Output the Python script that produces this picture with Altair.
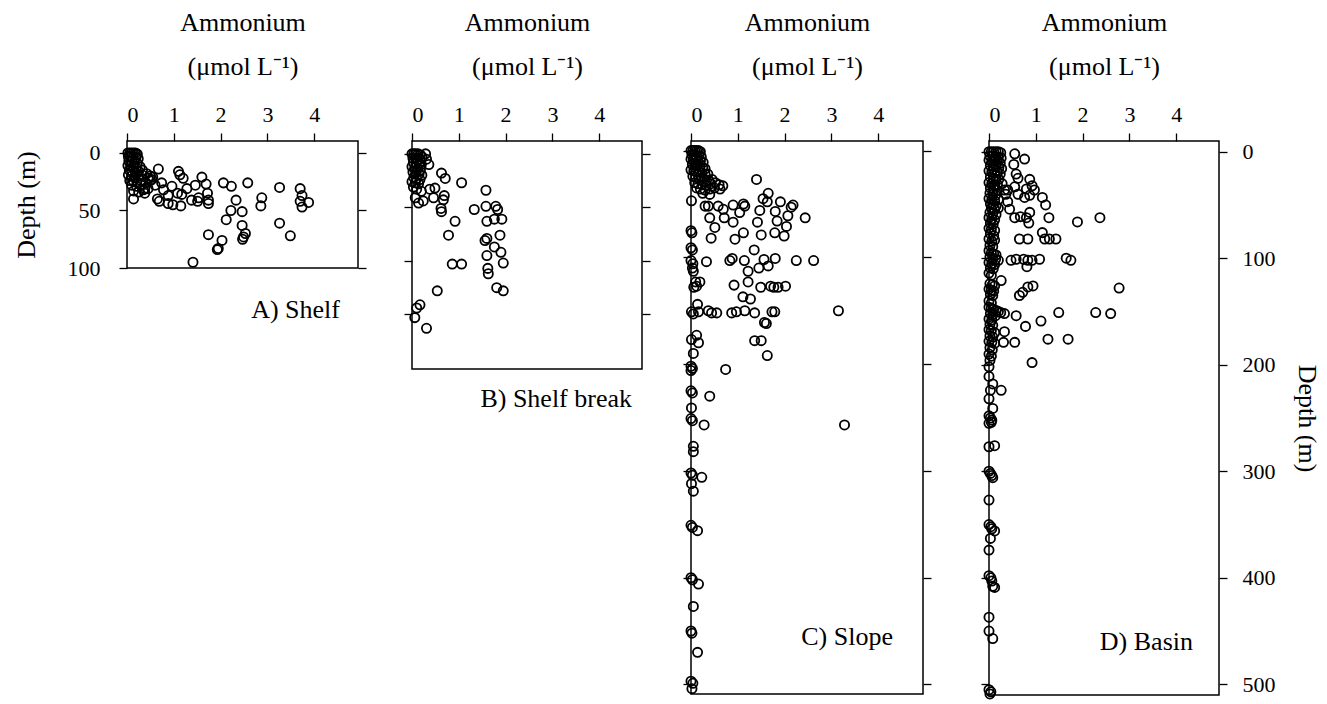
import altair as alt
import pandas as pd

FONT = "Liberation Serif"

# x ticks (ammonium, umol/L) shared by all panels
X_TICKS = [0, 1, 2, 3, 4]
X_TITLE = ["Ammonium", "(\u03bcmol L\u207b\u00b9)"]
DEPTH_TITLE = "Depth (m)"
PANEL_LABELS = ["A) Shelf", "B) Shelf break", "C) Slope", "D) Basin"]

# (ammonium, depth) pairs
SHELF = [
    (0.02, 0), (0.06, 0), (0.10, 0), (0.14, 0), (0.18, 0), (0.22, 1),
    (0.03, 3), (0.08, 3), (0.13, 4), (0.19, 4), (0.24, 5),
    (0.04, 7), (0.10, 7), (0.16, 8), (0.22, 9),
    (0.02, 11), (0.08, 11), (0.14, 12), (0.20, 13), (0.28, 12),
    (0.05, 15), (0.11, 16), (0.18, 17), (0.25, 16), (0.33, 15),
    (0.03, 19), (0.10, 20), (0.17, 21), (0.24, 20), (0.32, 19), (0.42, 18), (0.50, 20),
    (0.06, 24), (0.13, 24), (0.21, 25), (0.30, 24), (0.45, 22), (0.55, 21),
    (0.10, 28), (0.20, 29), (0.30, 28), (0.40, 26), (0.50, 24),
    (0.14, 33), (0.25, 34), (0.35, 32), (0.45, 31),
    (0.14, 40), (0.38, 35), (0.38, 31), (0.53, 23), (0.60, 28),
    (0.67, 14), (1.10, 16), (1.13, 19), (1.20, 22), (1.60, 21), (1.28, 31), (1.46, 28),
    (1.69, 27), (1.72, 35), (1.74, 41), (1.74, 44), (1.53, 39), (1.51, 42), (1.38, 41),
    (1.17, 36), (1.08, 35), (0.96, 29), (0.74, 26), (0.78, 32), (0.88, 37), (0.88, 44),
    (0.98, 45), (1.15, 46), (0.65, 40), (0.69, 42),
    (2.06, 26), (2.23, 29), (2.58, 26), (2.33, 41), (2.22, 50), (2.12, 58), (2.46, 51),
    (2.46, 63), (2.53, 70), (2.49, 73), (2.47, 75), (1.74, 71), (2.03, 76), (1.93, 84),
    (1.95, 83), (1.41, 95),
    (2.88, 39), (2.86, 46), (3.26, 30), (3.70, 31), (3.74, 37), (3.70, 42), (3.74, 47),
    (3.88, 43), (3.26, 61), (3.49, 72),
]

SHELF_BREAK = [
    (0.00, 0), (0.04, 0), (0.08, 0), (0.13, 0), (0.18, 1), (0.29, 0),
    (0.02, 4), (0.07, 4), (0.12, 5), (0.17, 5), (0.22, 3), (0.31, 5),
    (0.03, 8), (0.09, 9), (0.15, 9), (0.20, 10), (0.36, 10),
    (0.00, 12), (0.06, 13), (0.12, 14), (0.18, 15),
    (0.02, 17), (0.08, 18), (0.15, 19), (0.21, 20),
    (0.04, 22), (0.10, 23), (0.17, 24),
    (0.00, 26), (0.07, 27), (0.14, 28),
    (0.03, 31), (0.10, 33), (0.20, 35),
    (0.07, 41), (0.14, 46), (0.24, 44), (0.38, 33), (0.49, 32), (0.46, 41),
    (0.63, 18), (0.71, 23), (1.06, 27), (0.69, 39), (0.67, 43), (0.62, 51), (0.63, 54),
    (0.92, 63), (0.78, 76), (1.33, 52),
    (1.58, 34), (1.58, 49), (1.79, 49), (1.83, 52), (1.60, 63), (1.76, 61), (1.92, 61),
    (1.88, 76), (1.56, 81), (1.60, 79), (1.76, 87), (1.90, 92), (1.60, 95), (1.95, 102),
    (1.62, 107), (1.63, 112),
    (0.86, 103), (1.06, 103), (1.81, 125), (1.95, 128), (0.54, 128), (0.17, 141),
    (0.10, 144), (0.06, 153), (0.31, 163),
]

SLOPE = [
    (0.00, 0), (0.04, 0), (0.08, 0), (0.12, 0), (0.16, 0), (0.20, 1),
    (0.02, 4), (0.07, 4), (0.12, 5), (0.17, 5), (0.22, 6),
    (0.00, 8), (0.05, 8), (0.10, 9), (0.15, 10), (0.20, 10), (0.26, 11),
    (0.03, 13), (0.08, 14), (0.13, 14), (0.19, 15), (0.25, 16), (0.30, 17),
    (0.00, 18), (0.06, 19), (0.11, 20), (0.17, 20), (0.23, 21), (0.30, 22), (0.36, 22),
    (0.04, 24), (0.10, 25), (0.16, 26), (0.22, 26), (0.30, 27), (0.38, 28), (0.45, 27),
    (0.08, 30), (0.15, 31), (0.24, 32), (0.33, 32), (0.42, 31), (0.52, 30), (0.60, 32), (0.68, 33),
    (0.12, 35), (0.20, 36), (0.30, 37), (0.40, 36), (0.50, 35), (0.62, 36),
    (0.25, 40), (0.40, 41),
    (1.40, 27), (0.01, 47), (0.30, 52), (0.37, 52), (0.58, 52), (0.69, 55), (0.71, 63),
    (0.40, 63), (0.51, 72), (0.43, 82),
    (0.90, 51), (1.04, 58), (0.90, 67), (1.15, 52), (1.12, 50), (1.54, 45), (1.65, 40),
    (1.63, 48), (1.47, 56), (1.42, 67), (1.50, 79), (1.12, 77), (0.94, 83),
    (1.91, 48), (1.80, 57), (1.84, 66), (1.79, 77), (1.99, 80), (2.07, 61), (2.04, 71),
    (2.18, 51), (2.14, 53), (2.44, 63),
    (0.00, 75), (0.02, 77), (0.00, 91), (0.03, 93), (0.00, 103), (0.04, 106), (0.03, 110),
    (0.05, 113), (0.10, 123), (0.19, 123), (0.06, 128), (0.12, 127), (0.14, 144),
    (0.33, 104), (0.83, 103), (0.88, 101), (1.14, 103), (1.22, 113), (1.35, 93), (1.45, 110),
    (1.56, 102), (1.65, 108), (1.80, 101), (2.25, 103), (2.62, 103),
    (0.92, 126), (1.22, 123), (1.49, 128), (1.70, 127), (1.77, 128), (1.86, 128), (2.02, 127),
    (1.11, 137), (1.27, 139),
    (0.01, 151), (0.05, 153), (0.16, 151), (0.37, 150), (0.44, 152), (0.55, 152), (0.87, 152),
    (0.97, 151), (1.15, 150), (1.36, 152), (1.73, 151), (1.79, 151), (3.15, 150),
    (1.57, 161), (1.61, 162), (1.36, 178), (1.50, 178), (1.63, 192),
    (0.01, 177), (0.12, 173), (0.16, 180), (0.05, 190),
    (0.00, 202), (0.03, 204), (0.00, 206), (0.74, 205),
    (0.00, 225), (0.03, 227), (0.40, 230), (0.01, 241), (0.00, 251), (0.03, 253), (0.28, 257),
    (3.28, 257),
    (0.05, 277), (0.05, 282), (0.00, 302), (0.03, 304), (0.23, 306), (0.01, 312), (0.05, 319),
    (0.00, 351), (0.03, 353), (0.14, 356), (0.00, 400), (0.03, 402), (0.16, 406), (0.05, 427),
    (0.00, 450), (0.02, 452), (0.14, 470), (0.00, 497), (0.04, 499), (0.02, 504),
]

BASIN = [
    (0.00, 0), (0.05, 0), (0.10, 0), (0.15, 0), (0.20, 0), (0.25, 1),
    (0.02, 4), (0.08, 4), (0.14, 5), (0.20, 5), (0.26, 6),
    (0.00, 8), (0.06, 9), (0.12, 9), (0.18, 10), (0.24, 11),
    (0.03, 13), (0.09, 14), (0.15, 14), (0.21, 15), (0.27, 16),
    (0.00, 18), (0.06, 19), (0.12, 20), (0.18, 20), (0.24, 21),
    (0.03, 24), (0.09, 25), (0.15, 26), (0.21, 26),
    (0.00, 29), (0.06, 30), (0.12, 31), (0.18, 31), (0.28, 30),
    (0.03, 34), (0.10, 35), (0.17, 36), (0.33, 36),
    (0.02, 39), (0.08, 40), (0.14, 41), (0.36, 40),
    (0.00, 44), (0.06, 45), (0.12, 46), (0.20, 45), (0.40, 47),
    (0.03, 49), (0.09, 50), (0.15, 51), (0.05, 53), (0.12, 54), (0.20, 53),
    (0.02, 57), (0.08, 58), (0.15, 59), (0.00, 62), (0.06, 63), (0.12, 64),
    (0.03, 67), (0.09, 68), (0.00, 72), (0.05, 73), (0.12, 74), (0.03, 77), (0.10, 79),
    (0.00, 82), (0.06, 84), (0.12, 83), (0.02, 88), (0.08, 89),
    (0.00, 93), (0.05, 95), (0.10, 96), (0.15, 97), (0.02, 99), (0.08, 100), (0.14, 101),
    (0.20, 102), (0.00, 104), (0.06, 105), (0.12, 106), (0.03, 109), (0.09, 110),
    (0.00, 114), (0.05, 116), (0.02, 124), (0.07, 125), (0.12, 126), (0.00, 129), (0.05, 130),
    (0.10, 131), (0.03, 134), (0.08, 135), (0.00, 140), (0.05, 142),
    (0.00, 146), (0.05, 147), (0.10, 148), (0.15, 149), (0.20, 150), (0.25, 151),
    (0.03, 152), (0.08, 153), (0.14, 154), (0.00, 157), (0.06, 158), (0.02, 162), (0.08, 163),
    (0.00, 167), (0.05, 168), (0.12, 170), (0.02, 173), (0.08, 174), (0.00, 178), (0.06, 179),
    (0.12, 180), (0.02, 184), (0.07, 186), (0.00, 190), (0.05, 192), (0.02, 196),
    (0.55, 2), (0.76, 7), (0.53, 12), (0.58, 21), (0.62, 25), (0.87, 26), (0.92, 32),
    (0.97, 36), (0.80, 35), (0.62, 40), (0.76, 43), (0.87, 41), (1.14, 43), (1.21, 50),
    (0.55, 33), (0.40, 36), (0.44, 54), (0.55, 62), (0.67, 61), (0.80, 62), (0.87, 57),
    (0.85, 67), (1.28, 62), (1.89, 66), (2.37, 62), (0.65, 82), (0.83, 82), (1.14, 76),
    (1.19, 82), (1.29, 82), (1.43, 82), (0.47, 102), (0.58, 101), (0.74, 101), (0.83, 102),
    (0.81, 108), (0.92, 102), (1.08, 101), (1.65, 100), (1.75, 102), (0.26, 121),
    (0.65, 135), (0.72, 132), (0.83, 127), (0.94, 126), (2.78, 128), (0.33, 152), (0.58, 154),
    (1.49, 151), (2.28, 151), (2.60, 152), (1.11, 159), (0.78, 164), (0.33, 169), (0.31, 179),
    (0.55, 179), (1.26, 176), (1.69, 176), (0.92, 198),
    (0.00, 202), (0.00, 211), (0.08, 218), (0.03, 224), (0.26, 224), (0.00, 232), (0.08, 241),
    (0.00, 248), (0.03, 250), (0.06, 252), (0.00, 255), (0.05, 254),
    (0.00, 277), (0.12, 276), (0.00, 300), (0.03, 302), (0.06, 304), (0.08, 306),
    (0.00, 327), (0.00, 350), (0.04, 352), (0.06, 354), (0.12, 356), (0.03, 363), (0.00, 374),
    (0.00, 398), (0.04, 400), (0.06, 403), (0.12, 409), (0.08, 408), (0.00, 437), (0.00, 450),
    (0.08, 457), (0.00, 505), (0.04, 507), (0.02, 509),
]

PX_PER_UNIT = 46.8


def panel(points, w, h, ydom, yticks, left_labels, right_labels, label, lx, ly):
    df = pd.DataFrame(points, columns=["ammonium", "depth"])
    xsc = alt.Scale(domain=[0, w / PX_PER_UNIT], nice=False, zero=False)
    ysc = alt.Scale(domain=ydom, reverse=True, nice=False, zero=False)
    xax = alt.Axis(orient="top", values=X_TICKS, format="d", title=X_TITLE,
                   titleLineHeight=44, titlePadding=24, labelPadding=7)
    if left_labels:
        lax = alt.Axis(orient="left", values=yticks, title=DEPTH_TITLE,
                       labelPadding=19, titlePadding=28)
    else:
        lax = alt.Axis(orient="left", values=yticks, labels=False, title=None)
    if right_labels:
        rax = alt.Axis(orient="right", values=yticks, title=DEPTH_TITLE,
                       labelPadding=15, titlePadding=18)
    else:
        rax = alt.Axis(orient="right", values=yticks, labels=False, title=None)
    base = alt.Chart(df)
    pts = base.mark_point(shape="circle", filled=False, color="black", size=85,
                          strokeWidth=1.8, opacity=1).encode(
        x=alt.X("ammonium:Q", scale=xsc, axis=xax),
        y=alt.Y("depth:Q", scale=ysc, axis=lax),
    )
    side = base.mark_point(opacity=0).encode(
        x=alt.X("ammonium:Q", scale=xsc, axis=None),
        y=alt.Y("depth:Q", scale=ysc, axis=rax),
    )
    txt = alt.Chart(pd.DataFrame({"label": [label]})).mark_text(
        align="right", baseline="middle", font=FONT, fontSize=26, color="black"
    ).encode(text="label:N", x=alt.value(lx), y=alt.value(ly))
    return alt.layer(pts, side, txt).resolve_axis(x="independent", y="independent").properties(
        width=w, height=h)


A = panel(SHELF, 231, 127, [-10.4, 100], [0, 50, 100], True, False, PANEL_LABELS[0], 213, 169)
B = panel(SHELF_BREAK, 230, 228, [-12, 201], [0, 50, 100, 150], False, False, PANEL_LABELS[1], 220, 258)
C = panel(SLOPE, 232, 553, [-9, 509], [0, 100, 200, 300, 400, 500], False, False, PANEL_LABELS[2], 202, 496)
D = panel(BASIN, 230, 554, [-10, 510], [0, 100, 200, 300, 400, 500], False, True, PANEL_LABELS[3], 204, 501)

ab = alt.hconcat(A, B, spacing=54, bounds="flush")
cd = alt.hconcat(C, D, spacing=66, bounds="flush")

chart = alt.hconcat(ab, cd, spacing=29).properties(
    padding={"left": 12, "top": 8, "right": 0, "bottom": 0},
    background="white",
).configure_view(stroke="black", strokeWidth=1.5).configure_axis(
    domain=False, grid=False, tickColor="black", tickWidth=1.3, tickSize=8,
    labelFont=FONT, labelFontSize=22, labelColor="black",
    titleFont=FONT, titleFontSize=26, titleFontWeight="normal", titleColor="black",
).configure_text(font=FONT)

chart.save("out.html", embed_options={"renderer": "svg", "actions": False})
